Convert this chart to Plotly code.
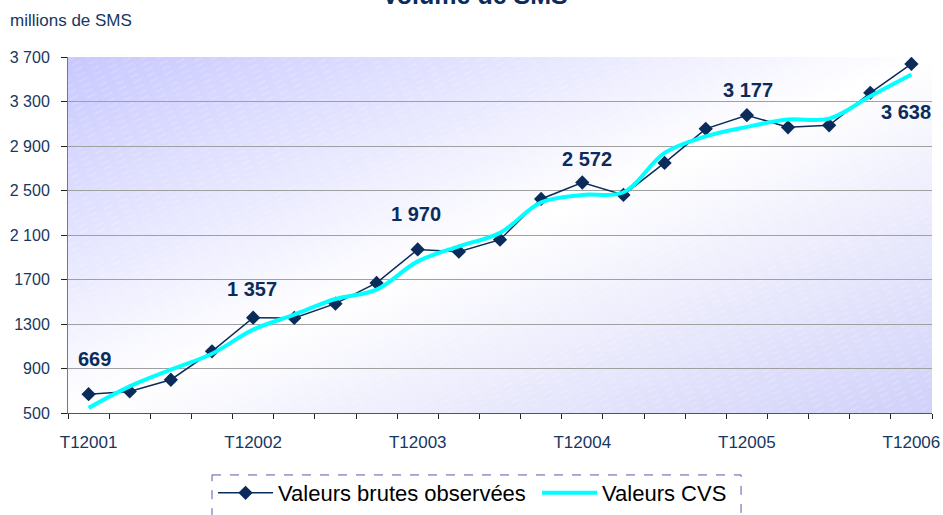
import base64

import plotly.graph_objects as go

# --- données ---
trimestres = [
    "T12001", "T22001", "T32001", "T42001",
    "T12002", "T22002", "T32002", "T42002",
    "T12003", "T22003", "T32003", "T42003",
    "T12004", "T22004", "T32004", "T42004",
    "T12005", "T22005", "T32005", "T42005",
    "T12006",
]
valeurs_brutes = [669, 694, 799, 1054, 1357, 1355, 1483, 1669, 1970, 1950, 2058,
                  2424, 2572, 2460, 2748, 3054, 3177, 3068, 3086, 3378, 3638]
valeurs_cvs = [545, 739, 889, 1033, 1249, 1384, 1525, 1609, 1863, 1998, 2119,
               2394, 2460, 2484, 2838, 2987, 3072, 3138, 3146, 3347, 3542]
idx_etiquettes = [0, 4, 8, 12, 16, 20]
y_ticks = [500, 900, 1300, 1700, 2100, 2500, 2900, 3300, 3700]
y_ticktext = ["500", "900", "1300", "1700", "2 100", "2 500", "2 900", "3 300", "3 700"]

NAVY = "#0B2C5A"
TXT = "#17375F"
CYAN = "#00FFFF"
FONT = "Liberation Sans, Arial, sans-serif"

# décalages (px) des étiquettes de valeurs : (xshift, yshift)
decalages = {0: (6, 35), 4: (-1, 29), 8: (-2, 35), 12: (5, 23), 16: (1, 25), 20: (-5, -48)}

x = list(range(len(trimestres)))

fig = go.Figure()
fig.add_trace(go.Scatter(
    x=x, y=valeurs_brutes, name="Valeurs brutes observées",
    mode="lines+markers",
    line=dict(color=NAVY, width=1.5),
    marker=dict(symbol="diamond", size=11, color=NAVY),
))
fig.add_trace(go.Scatter(
    x=x, y=valeurs_cvs, name="Valeurs CVS",
    mode="lines",
    line=dict(color=CYAN, width=4, shape="spline", smoothing=1),
))

for i in idx_etiquettes:
    dx, dy = decalages[i]
    fig.add_annotation(
        x=i, y=valeurs_brutes[i], xref="x", yref="y",
        text=f"{valeurs_brutes[i]:,}".replace(",", " "),
        showarrow=False, xshift=dx, yshift=dy,
        font=dict(family=FONT, size=20, color=NAVY, weight="bold"),
    )

# fond dégradé lavande -> blanc -> lavande
svg = (
    '<svg xmlns="http://www.w3.org/2000/svg" width="864" height="356" '
    'viewBox="0 0 864 356" preserveAspectRatio="none">'
    '<defs><linearGradient id="g" x1="0" y1="0" x2="1" y2="1">'
    '<stop offset="0" stop-color="#C8C8FF"/>'
    '<stop offset="0.5" stop-color="#FFFFFF"/>'
    '<stop offset="1" stop-color="#D0D0FA"/></linearGradient>'
    '<pattern id="p" width="16" height="6" patternUnits="userSpaceOnUse" '
    'patternTransform="rotate(-25)">'
    '<line x1="0" y1="3" x2="9" y2="3" stroke="#FFFFFF" stroke-width="0.8" '
    'opacity="0.35"/></pattern></defs>'
    '<rect width="864" height="356" fill="url(#g)"/>'
    '<rect width="864" height="356" fill="url(#p)"/></svg>'
)
fig.add_layout_image(
    source="data:image/svg+xml;base64," + base64.b64encode(svg.encode()).decode(),
    xref="paper", yref="paper", x=0, y=1, sizex=1, sizey=1,
    sizing="stretch", layer="below",
)

# titre (coupé en haut comme l'original) et unité
fig.add_annotation(
    text="Volume de SMS", xref="paper", yref="paper", x=0.4716, y=1.13,
    xanchor="center", yanchor="bottom", showarrow=False,
    font=dict(family=FONT, size=25, color=NAVY, weight="bold"),
)
fig.add_annotation(
    text="millions de SMS", xref="paper", yref="paper", x=-0.07, y=1.07,
    xanchor="left", yanchor="bottom", showarrow=False,
    font=dict(family=FONT, size=17, color=TXT),
)

# cadre pointillé de la légende
fig.add_shape(
    type="rect", xref="paper", yref="paper",
    x0=0.1667, x1=0.779, y0=-0.174, y1=-0.34,
    line=dict(color="#5A5AA8", width=1, dash="dash"),
)

fig.update_layout(
    width=943, height=515,
    margin=dict(l=68, r=11, t=57, b=102, autoexpand=False),
    paper_bgcolor="white",
    plot_bgcolor="rgba(0,0,0,0)",
    font=dict(family=FONT, color=TXT),
    showlegend=True,
    legend=dict(
        orientation="h", xref="container", yref="container",
        x=0.2259, xanchor="left", y=0.0427, yanchor="middle",
        itemwidth=55, entrywidth=254, entrywidthmode="pixels",
        font=dict(family=FONT, size=22, color="black"),
        bgcolor="rgba(0,0,0,0)", borderwidth=0, traceorder="normal",
    ),
    xaxis=dict(
        range=[-0.5, len(trimestres) - 0.5],
        tickvals=idx_etiquettes,
        ticktext=[trimestres[i] for i in idx_etiquettes],
        ticks="outside", ticklen=0,
        ticklabelstandoff=14,
        tickfont=dict(family=FONT, size=17, color=TXT),
        showgrid=False, zeroline=False, automargin=False,
        showline=True, linecolor="#555555", linewidth=1,
        minor=dict(tick0=-0.5, dtick=1, ticks="outside", ticklen=5,
                   tickcolor="#222222", tickwidth=1, showgrid=False),
    ),
    yaxis=dict(
        range=[500, 3700],
        tickvals=y_ticks, ticktext=y_ticktext,
        ticks="outside", ticklen=6, tickcolor="#222222",
        ticklabelstandoff=8,
        tickfont=dict(family=FONT, size=16, color=TXT),
        showgrid=True, gridcolor="#A0A0A0", gridwidth=1,
        zeroline=False, automargin=False,
        showline=True, linecolor="#777777", linewidth=1,
    ),
)

# la page par défaut ajoute une marge de 8 px autour du graphique
fig.write_html(
    "out.html",
    config={"displayModeBar": False},
    post_script="document.body.style.margin='0';",
)
